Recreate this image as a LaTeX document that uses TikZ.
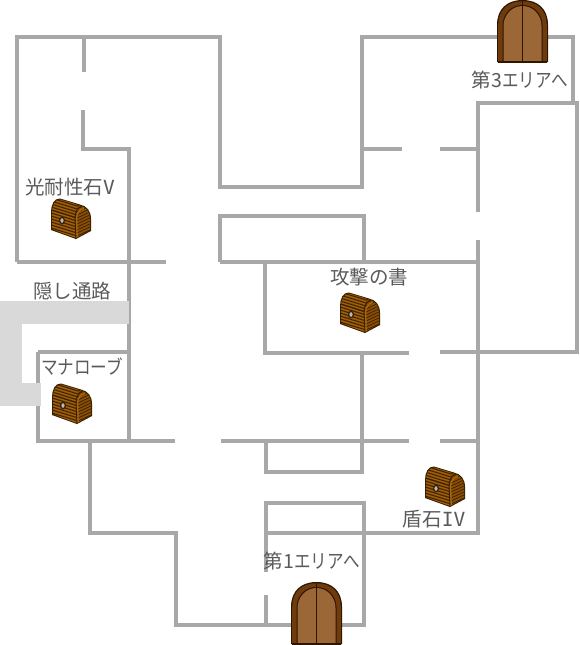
\documentclass[tikz,border=0pt]{standalone}
\usepackage{fontspec}
\setmainfont{Noto Sans CJK JP}
\newfontfamily\romanpart{DejaVu Sans Mono}
\newcommand{\kana}[1]{\scalebox{0.85}[1]{#1}}
\definecolor{wallgray}{HTML}{A8A8A8}
\definecolor{passgray}{HTML}{D9D9D9}
\definecolor{labelgray}{HTML}{5A5A5A}
\definecolor{doorbrown}{HTML}{9C6736}
\definecolor{doorrim}{HTML}{6E3B0C}
\definecolor{doordark}{HTML}{2E1500}
\definecolor{chestwood}{HTML}{8A4F06}
\definecolor{chestlight}{HTML}{A9680F}
\definecolor{chestdark}{HTML}{3A1F00}
\tikzset{
	wall/.style={draw=wallgray,line width=3.3pt,line join=miter},
	passage/.style={fill=passgray,draw=none},
	maplabel/.style={text=labelgray,inner sep=0pt,font=\fontsize{19.5}{19.5}\selectfont},
	archdoor/.pic={
		\fill[doordark](0,62)--(0,25) .. controls (0,9) and (10,0) .. (25.5,0) .. controls (41,0) and (51,9) .. (51,25)--(51,62)--cycle;
		\fill[doorrim](1.2,62)--(1.2,25) .. controls (1.2,10) and (11,1.2) .. (25.5,1.2) .. controls (40,1.2) and (49.8,10) .. (49.8,25)--(49.8,62)--cycle;
		\fill[doordark](5.5,62)--(5.5,26) .. controls (5.5,14) and (14,5) .. (25.5,5) .. controls (37,5) and (45.5,14) .. (45.5,26)--(45.5,62)--cycle;
		\fill[doorbrown](6.5,62)--(6.5,26) .. controls (6.5,15) and (15,6) .. (25.5,6) .. controls (36,6) and (44.5,15) .. (44.5,26)--(44.5,62)--cycle;
		\draw[doordark,line width=1pt](25.5,1)--(25.5,62);
		\draw[doordark,line width=1.5pt](0.7,62)--(50.3,62);
	},
	treasure/.pic={
		\fill[chestdark](0,14) .. controls (0,7) and (3,0) .. (9,0.5)--(29,6.5) .. controls (36,8) and (40,13) .. (40,21)--(40,33)--(25,41)--(0,32)--cycle;
		\begin{scope}
			\clip(1,14) .. controls (1,8) and (4,1.5) .. (9,1.5)--(29,7.5) .. controls (35,9) and (39,14) .. (39,21)--(39,32)--(25,40)--(1,31)--cycle;
			\fill[chestwood](0,0) rectangle (41,42);
			\foreach \i in {-3,0,...,42}{
				\draw[chestdark,line width=0.8pt](0,\i)--(26,\i+8);
				\draw[chestlight,line width=0.6pt](0,\i+1.4)--(26,\i+9.4);
				\draw[chestdark,line width=0.7pt](26,\i+8)--(41,\i+1);
			}
		\end{scope}
		\draw[chestdark,line width=1pt](25,41)--(24,20) .. controls (24,14) and (27,9.5) .. (30,8);
		\draw[chestlight,line width=1.3pt](26.2,39)--(25.6,20) .. controls (25.6,15) and (29,11) .. (33,10.5);
		\draw[chestdark,line width=0.9pt](1,12)--(24,19.5);
		\fill[chestdark](11,22.5) ellipse [x radius=3,y radius=3.8];
		\fill[gray!55](11,22.5) ellipse [x radius=1.6,y radius=2.3];
	}
}
\begin{document}
\begin{tikzpicture}[x=1pt,y=-1pt]
	\useasboundingbox (0,0) rectangle (580,645);
	% outer walls
	\draw[wall](17,262)--(17,37)--(220,37)--(220,187)--(362,187)--(362,37)--(573,37)--(573,103);
	\draw[wall](84,37)--(84,72);
	\draw[wall](83,110)--(83,149)--(129,149)--(129,441);
	\draw[wall](17,262)--(166,262);
	\draw[wall](362,149)--(402,149);
	\draw[wall](440,149)--(478,149);
	\draw[wall](478,212)--(478,103)--(577,103)--(577,352)--(440,352);
	\draw[wall](478,240)--(478,533)--(266,533);
	% middle rooms
	\draw[wall](220,262)--(220,216)--(364,216)--(364,262);
	\draw[wall](220,262)--(478,262);
	\draw[wall](409,353)--(265,353)--(265,262);
	\draw[wall](362,353)--(362,472)--(266,472)--(266,441);
	\draw[wall](221,441)--(409,441);
	\draw[wall](440,441)--(478,441);
	% lower part
	\draw[wall](38,352)--(129,352);
	\draw[wall](38,352)--(38,441)--(175,441);
	\draw[wall](90,441)--(90,533)--(176,533)--(176,625)--(342,625);
	\draw[wall](266,572)--(266,503)--(364,503)--(364,625)--(342,625);
	\draw[wall](266,595)--(266,625);
	% hidden way
	\fill[passage](0,301) rectangle (129,324);
	\fill[passage](0,301) rectangle (22,405.5);
	\fill[passage](0,383) rectangle (41,405.5);
	% doors
	\pic at (497,0) {archdoor};
	\pic at (291,582) {archdoor};
	% chests
	\pic at (51,198) {treasure};
	\pic at (52,383) {treasure};
	\pic at (340,292) {treasure};
	\pic at (425,466) {treasure};
	% labels
	\node[maplabel] (exit3) at (520,80) {第3\kana{エリアへ}};
	\node[maplabel] (exit1) at (312,561) {第1\kana{エリアへ}};
	\node[maplabel] (lightstone) at (70,187) {光耐性石{\romanpart V}};
	\node[maplabel] (hiddenway) at (72,291) {隠し通路};
	\node[maplabel] (manarobe) at (82,367) {\kana{マナローブ}};
	\node[maplabel] (attackbook) at (369,277) {攻撃の書};
	\node[maplabel] (shieldstone) at (434,519) {盾石{\romanpart IV}};
\end{tikzpicture}
\end{document}
